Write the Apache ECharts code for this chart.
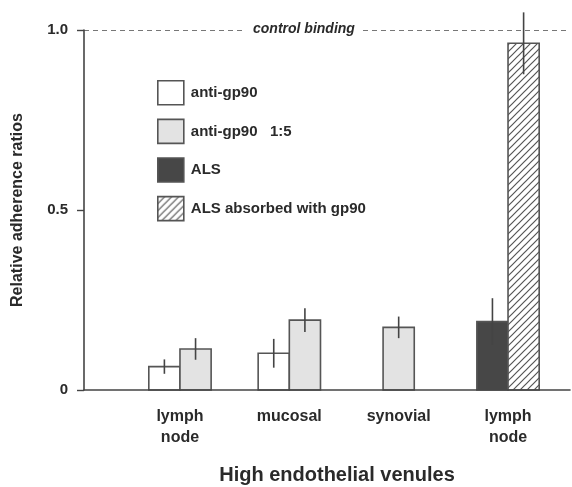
<!DOCTYPE html>
<html><head><meta charset="utf-8">
<script src="https://cdn.jsdelivr.net/npm/echarts@6/dist/echarts.min.js"></script>
<style>html,body{margin:0;padding:0;background:#fff}#c{width:572px;height:487px}</style>
</head><body><div id="c"></div>
<script>
// ---- data ----
const categories = ['lymph\nnode', 'mucosal', 'synovial', 'lymph\nnode'];
const seriesNames = ['anti-gp90', 'anti-gp90   1:5', 'ALS', 'ALS absorbed with gp90'];
const antiGp90 = [0.065, 0.102, null, null];
const antiGp90Err = [0.02, 0.04, null, null];
const antiGp90Diluted = [0.114, 0.194, 0.174, null];
const antiGp90DilutedErr = [0.03, 0.033, 0.03, null];
const als = [null, null, null, 0.19];
const alsErr = [null, null, null, 0.065];
const alsAbsorbed = [null, null, null, 0.963];
const alsAbsorbedErr = [null, null, null, 0.086];
const yTicks = [0, 0.5, 1.0];
const yTickLabels = ['0', '0.5', '1.0'];
const controlLevel = 1.0;
const controlLabel = 'control binding';
const xAxisName = 'High endothelial venules';
const yAxisName = 'Relative adherence ratios';

// ---- styling ----
const FONT = '"Liberation Sans", Arial, sans-serif';
const INK = '#2a2a2a';
const EDGE = '#555';
function hatchCanvas() {
  const s = 7;
  const c = document.createElement('canvas');
  c.width = s; c.height = s;
  const g = c.getContext('2d');
  g.fillStyle = '#fff'; g.fillRect(0, 0, s, s);
  g.strokeStyle = '#555'; g.lineWidth = 1.2;
  g.beginPath();
  g.moveTo(0, s); g.lineTo(s, 0);
  g.moveTo(-1, 1); g.lineTo(1, -1);
  g.moveTo(s - 1, s + 1); g.lineTo(s + 1, s - 1);
  g.stroke();
  return c;
}
const hatch = { image: hatchCanvas(), repeat: 'repeat' };
const fills = ['#ffffff', '#e3e3e3', '#474747', hatch];

const allValues = [antiGp90, antiGp90Diluted, als, alsAbsorbed];
const allErrs = [antiGp90Err, antiGp90DilutedErr, alsErr, alsAbsorbedErr];

function makeRender(sIdx) {
  return function (params, api) {
    const c = api.value(0), v = api.value(1), e = api.value(2);
    const present = allValues.map((arr, i) => arr[c] != null ? i : -1).filter(i => i >= 0);
    const n = present.length, k = present.indexOf(sIdx);
    const band = api.size([1, 0])[0];
    const w = band * 0.285;
    const base = api.coord([c, 0]);
    const top = api.coord([c, v]);
    const cx = base[0] + (k - (n - 1) / 2) * w;
    const hi = api.coord([c, v + e]);
    const lo = api.coord([c, v - e]);
    return {
      type: 'group',
      children: [
        { type: 'rect', shape: { x: cx - w / 2, y: top[1], width: w, height: base[1] - top[1] },
          style: { fill: fills[sIdx], stroke: EDGE, lineWidth: 1.6 } },
        { type: 'line', shape: { x1: cx, y1: hi[1], x2: cx, y2: lo[1] },
          style: { stroke: '#444', lineWidth: 1.6 } }
      ]
    };
  };
}

const series = allValues.map((vals, s) => ({
  type: 'custom',
  name: seriesNames[s],
  xAxisIndex: 1, yAxisIndex: 1,
  renderItem: makeRender(s),
  itemStyle: { color: fills[s], borderColor: EDGE, borderWidth: 1.6 },
  encode: { x: 0, y: 1 },
  data: vals.map((v, i) => v == null ? null : [i, v, allErrs[s][i]]).filter(Boolean),
  z: 3
}));

const chart = echarts.init(document.getElementById('c'), null, { renderer: 'canvas' });
chart.setOption({
  animation: false,
  backgroundColor: '#fff',
  textStyle: { fontFamily: FONT },
  title: {
    text: controlLabel, left: 246, top: 21, padding: [1, 7],
    backgroundColor: '#fff',
    textStyle: { fontFamily: FONT, fontSize: 14, fontStyle: 'italic', fontWeight: 'bold', color: INK }
  },
  legend: {
    orient: 'vertical', left: 152, top: 75,
    itemWidth: 26, itemHeight: 24, itemGap: 13,
    selectedMode: false,
    textStyle: { fontFamily: FONT, fontSize: 15, fontWeight: 'bold', color: INK, padding: [0, 0, 0, 2] },
    data: seriesNames.map((nm, s) => ({
      name: nm, icon: 'rect',
      itemStyle: { color: fills[s], borderColor: EDGE, borderWidth: 1.6 }
    }))
  },
  grid: [
    { left: 84, right: 2, top: 30, bottom: 97, outerBoundsMode: 'none', containLabel: false },
    { left: 125.3, right: 9.3, top: 30, bottom: 97, outerBoundsMode: 'none', containLabel: false }
  ],
  xAxis: [
    { type: 'value', gridIndex: 0, min: 0, max: 1,
      axisLine: { show: true, onZero: false, lineStyle: { color: '#444', width: 1.6 } },
      axisTick: { show: false }, axisLabel: { show: false }, splitLine: { show: false }, z: 5 },
    { type: 'category', gridIndex: 1, data: categories,
      axisLine: { show: false }, axisTick: { show: false },
      axisLabel: { fontFamily: FONT, fontSize: 16, fontWeight: 'bold', color: INK, lineHeight: 21, margin: 16, interval: 0 },
      name: xAxisName, nameLocation: 'middle', nameGap: 75,
      nameTextStyle: { fontFamily: FONT, fontSize: 20, fontWeight: 'bold', color: INK, padding: [0, 14, 0, 0] } }
  ],
  yAxis: [
    { type: 'value', gridIndex: 0, min: 0, max: 1, interval: 0.5,
      axisLine: { show: true, lineStyle: { color: '#444', width: 1.6 } },
      axisTick: { show: true, length: 7, lineStyle: { color: '#444', width: 1.4 } },
      axisLabel: { fontFamily: FONT, fontSize: 15, fontWeight: 'bold', color: INK, margin: 16,
        formatter: v => { const i = yTicks.findIndex(t => Math.abs(t - v) < 1e-9); return i >= 0 ? yTickLabels[i] : ''; } },
      splitLine: { show: false },
      name: yAxisName, nameLocation: 'middle', nameGap: 58, nameRotate: 90,
      nameTextStyle: { fontFamily: FONT, fontSize: 16, fontWeight: 'bold', color: INK } },
    { type: 'value', gridIndex: 1, min: 0, max: 1, show: false },
    { type: 'value', gridIndex: 0, min: 0, max: controlLevel, interval: controlLevel,
      axisLine: { show: false }, axisTick: { show: false }, axisLabel: { show: false },
      splitLine: { show: true, showMinLine: false, lineStyle: { color: '#777', width: 1.2, type: [5, 4] } } }
  ],
  series: series
});
</script></body></html>
